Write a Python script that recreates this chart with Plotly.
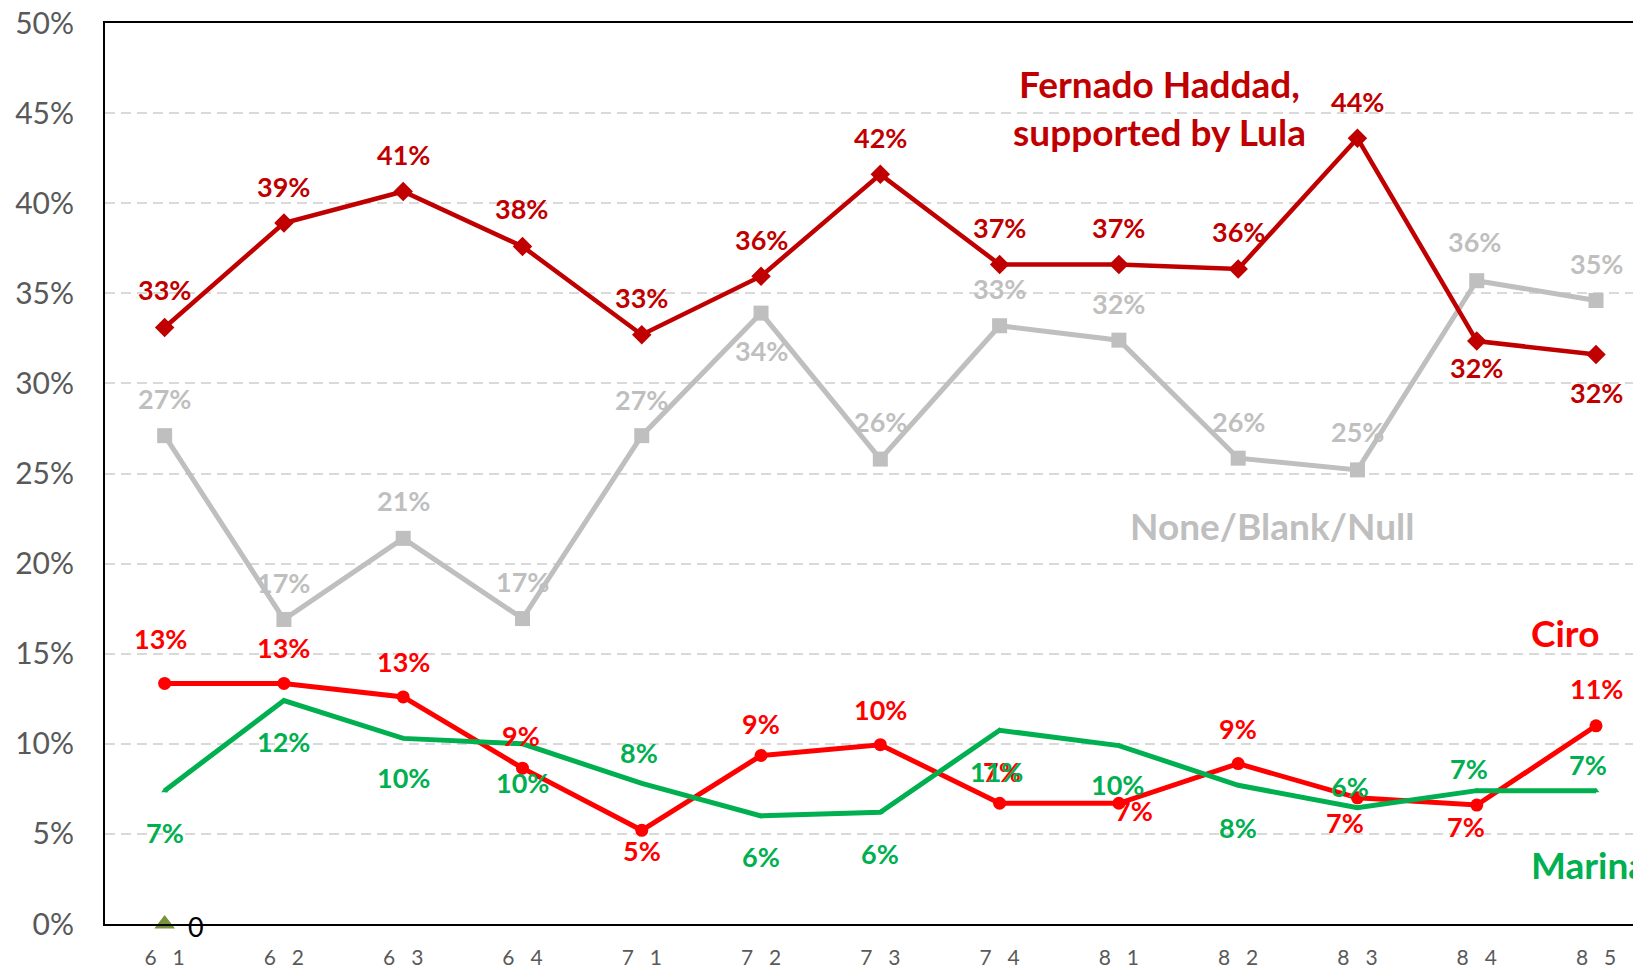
import plotly.graph_objects as go

# ---------------- data ----------------
categories = ["6 1", "6 2", "6 3", "6 4", "7 1", "7 2", "7 3", "7 4", "8 1", "8 2", "8 3", "8 4", "8 5"]
haddad = [33.1, 38.9, 40.65, 37.6, 32.7, 35.95, 41.6, 36.6, 36.6, 36.35, 43.6, 32.35, 31.6]
none_blank_null = [27.1, 16.9, 21.4, 16.95, 27.1, 33.9, 25.8, 33.2, 32.4, 25.85, 25.2, 35.7, 34.6]
ciro = [13.35, 13.35, 12.6, 8.65, 5.2, 9.35, 9.95, 6.7, 6.7, 8.9, 7.0, 6.6, 11.0]
marina = [7.4, 12.4, 10.3, 10.0, 7.8, 6.0, 6.2, 10.75, 9.9, 7.7, 6.45, 7.4, 7.4]
other_x = ["6 1"]
other = [0]
yticks = [0, 5, 10, 15, 20, 25, 30, 35, 40, 45, 50]

# ---------------- styles ----------------
C_HADDAD = "#C00000"
C_GRAY = "#BFBFBF"
C_CIRO = "#FF0000"
C_MARINA = "#00B050"
C_OTHER = "#77933C"
FONT = "Lato, 'Open Sans', sans-serif"

# label offsets in pixels (xshift, yshift)
haddad_dx = [0, 0, 0, -1, 0, 0, 0, 0, 0, 0, 0, 0, 0]
haddad_dy = [38, 37, 37, 38, 37, 37, 37, 37, 37, 37, 37, -26, -38]
gray_dx = [0, 0, 0, 0, 0, 0, 0, 0, 0, 0, 0, -2, 0]
gray_dy = [37, 37, 38, 37, 36, -37, 38, 37, 37, 37, 38, 39, 37]
ciro_dx = [-4, 0, 0, -1, 0, 0, 0, 2, 15, 0, -12, -11, 0]
ciro_dy = [45, 36, 35, 33, -20, 32, 35, 32, -7, 35, -25, -21, 37]
marina_dx = [0, 0, 0, 0, -3, 0, 0, -3, -1, 0, -7, -8, -8]
marina_dy = [-42, -41, -39, -39, 31, -41, -41, -41, -39, -42, 21, 22, 26]

fig = go.Figure()

fig.add_trace(go.Scatter(
    x=categories, y=none_blank_null, mode="lines+markers", name="None/Blank/Null",
    line=dict(color=C_GRAY, width=5), marker=dict(symbol="square", size=15, color=C_GRAY),
    cliponaxis=False))
fig.add_trace(go.Scatter(
    x=categories, y=ciro, mode="lines+markers", name="Ciro",
    line=dict(color=C_CIRO, width=5), marker=dict(symbol="circle", size=13, color=C_CIRO),
    cliponaxis=False))
fig.add_trace(go.Scatter(
    x=categories, y=marina, mode="lines+markers", name="Marina",
    line=dict(color=C_MARINA, width=5), marker=dict(symbol="triangle-up", size=6, color=C_MARINA),
    cliponaxis=False))
fig.add_trace(go.Scatter(
    x=categories, y=haddad, mode="lines+markers", name="Haddad",
    line=dict(color=C_HADDAD, width=4.5), marker=dict(symbol="diamond", size=15, color=C_HADDAD),
    cliponaxis=False))
fig.add_trace(go.Scatter(
    x=other_x, y=other, mode="markers", name="Other",
    marker=dict(symbol="triangle-up", size=18, color=C_OTHER),
    cliponaxis=False))

annotations = []


def add_labels(values, dxs, dys, color):
    for c, v, dx, dy in zip(categories, values, dxs, dys):
        annotations.append(dict(
            x=c, y=v, xref="x", yref="y", text=f"{v:.0f}%", showarrow=False,
            xshift=dx, yshift=dy, xanchor="center", yanchor="middle",
            font=dict(family=FONT, size=27, color=color, weight="bold")))


add_labels(none_blank_null, gray_dx, gray_dy, C_GRAY)
add_labels(ciro, ciro_dx, ciro_dy, C_CIRO)
add_labels(marina, marina_dx, marina_dy, C_MARINA)
add_labels(haddad, haddad_dx, haddad_dy, C_HADDAD)

# "0" label for the small series
annotations.append(dict(x=other_x[0], y=other[0], xref="x", yref="y", text=f"{other[0]}",
                        showarrow=False, xshift=31, yshift=-2,
                        font=dict(family=FONT, size=27, color="#000000")))

# series names
name_font = lambda col: dict(family=FONT, size=37, color=col, weight="bold")
annotations += [
    dict(x=8.34, y=46.64, xref="x", yref="y", text="Fernado Haddad,", showarrow=False,
         xanchor="center", yanchor="middle", font=name_font(C_HADDAD)),
    dict(x=8.34, y=43.96, xref="x", yref="y", text="supported by Lula", showarrow=False,
         xanchor="center", yanchor="middle", font=name_font(C_HADDAD)),
    dict(x=9.28, y=22.12, xref="x", yref="y", text="None/Blank/Null", showarrow=False,
         xanchor="center", yanchor="middle", font=name_font(C_GRAY)),
    dict(x=11.74, y=16.15, xref="x", yref="y", text="Ciro", showarrow=False,
         xanchor="center", yanchor="middle", font=name_font(C_CIRO)),
    dict(x=11.44, y=3.30, xref="x", yref="y", text="Marina", showarrow=False,
         xanchor="left", yanchor="middle", font=name_font(C_MARINA)),
]

# the page body has an 8px margin, so the figure is sized/offset to compensate
fig.update_layout(
    width=1625, height=962,
    margin=dict(l=97, r=0, t=15, b=46, autoexpand=False),
    paper_bgcolor="white", plot_bgcolor="white",
    showlegend=False,
    annotations=annotations,
    font=dict(family=FONT),
)

fig.update_xaxes(
    type="category", categoryorder="array", categoryarray=categories,
    range=[-0.5, 12.31],
    tickvals=categories,
    ticktext=[c.replace(" ", "\u2002 ") for c in categories],
    tickfont=dict(family=FONT, size=21, color="#595959"),
    showline=True, linecolor="black", linewidth=2, mirror=True,
    showgrid=False, ticks="", ticklabelstandoff=14, ticklabeloverflow="allow",
    automargin=False,
)
fig.update_yaxes(
    range=[0, 50], tickvals=yticks, ticktext=[f"{t}%" for t in yticks],
    tickfont=dict(family=FONT, size=30, color="#595959"),
    showline=True, linecolor="black", linewidth=2,
    showgrid=True, gridcolor="#D9D9D9", gridwidth=2, griddash="10px,6px",
    zeroline=False, ticks="", ticklabelstandoff=23, ticklabeloverflow="allow",
    automargin=False,
)

fig.write_html("out.html")
